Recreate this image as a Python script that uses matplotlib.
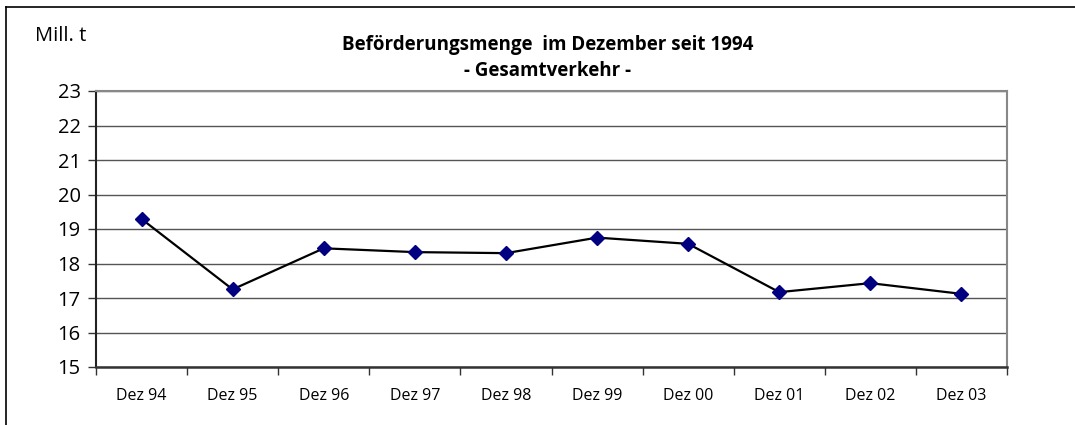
import numpy as np
import matplotlib
matplotlib.use("Agg")
import matplotlib.pyplot as plt
from matplotlib.lines import Line2D

plt.rcParams['font.family'] = ['Open Sans', 'DejaVu Sans']

# data
labels = ["Dez 94", "Dez 95", "Dez 96", "Dez 97", "Dez 98",
          "Dez 99", "Dez 00", "Dez 01", "Dez 02", "Dez 03"]
menge = [19.29, 17.25, 18.44, 18.33, 18.30, 18.75, 18.57, 17.17, 17.43, 17.12]
yticks = [15, 16, 17, 18, 19, 20, 21, 22, 23]

fig = plt.figure(figsize=(10.75, 4.25), dpi=100)
W, H = 1075, 425
# plot area in pixels: left 96, right 1007, top 91, bottom 367
ax = fig.add_axes([96 / W, 1 - 367 / H, (1007 - 96) / W, (367 - 91) / H])

x = np.arange(len(labels))
ax.plot(x, menge, color='black', lw=1.6, marker='D', markersize=7,
        markerfacecolor='#000080', markeredgecolor='#000080', zorder=3)

ax.set_xlim(-0.5, len(labels) - 0.5)
ax.set_ylim(15, 23)
ax.set_yticks(yticks)
ax.set_yticklabels([str(v) for v in yticks], fontsize=14.5)
ax.yaxis.grid(True, color='#555555', lw=1.0)
ax.set_axisbelow(True)

# labels centred in each category, tick marks on the boundaries
ax.set_xticks(x)
ax.set_xticklabels(labels, fontsize=11.5)
ax.set_xticks(np.arange(len(labels) + 1) - 0.5, minor=True)
ax.tick_params(axis='x', which='major', length=0, pad=15)
ax.tick_params(axis='x', which='minor', length=6, width=1, color='#333333', direction='out')
ax.tick_params(axis='y', length=6, width=1, color='#333333', direction='out', pad=5)

for side in ['top', 'right']:
    ax.spines[side].set_color('#888888')
    ax.spines[side].set_linewidth(1.5)
ax.spines['left'].set_color('#222222')
ax.spines['left'].set_linewidth(1.5)
ax.spines['bottom'].set_color('#333333')
ax.spines['bottom'].set_linewidth(1.8)

fig.text(35 / W, 1 - 36 / H, "Mill. t", fontsize=14.5, va='center', ha='left')
fig.text(548 / W, 1 - 45 / H, "Beförderungsmenge  im Dezember seit 1994",
         fontsize=13.5, fontweight='bold', ha='center', va='center')
fig.text(548 / W, 1 - 71 / H, "- Gesamtverkehr -",
         fontsize=13.5, fontweight='bold', ha='center', va='center')

# outer frame: top and left edges only
fig.add_artist(Line2D([6 / W, 1], [1 - 7 / H, 1 - 7 / H], color='black', lw=1.2,
                      transform=fig.transFigure))
fig.add_artist(Line2D([6 / W, 6 / W], [0, 1 - 7 / H], color='black', lw=1.2,
                      transform=fig.transFigure))

fig.savefig("out.png", dpi=100)
